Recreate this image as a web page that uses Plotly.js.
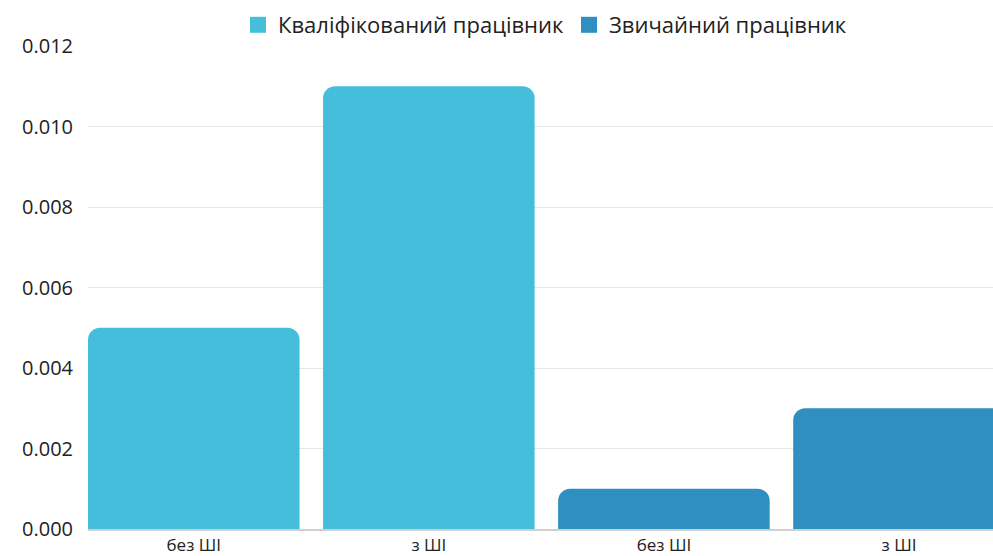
<!DOCTYPE html>
<html>
<head>
<meta charset="utf-8">
<script src="https://cdn.plot.ly/plotly-3.0.1.min.js"></script>
<style>html,body{margin:0;padding:0;background:#fff;}#chart{width:993px;height:556px;}</style>
</head>
<body>
<div id="chart"></div>
<script>
const tickLabels = ["без ШІ", "з ШІ", "без ШІ", "з ШІ"];
const seriesNames = ["Кваліфікований працівник", "Звичайний працівник"];
const skilledValues = [0.005, 0.011];
const regularValues = [0.001, 0.003];
const skilledIdx = [0, 1];
const regularIdx = [2, 3];
const colors = ["#45BEDB", "#2E8FC0"];

const traces = [
  {type: "bar", name: seriesNames[0], x: skilledIdx, y: skilledValues, width: 0.9,
   marker: {color: colors[0], cornerradius: 12}, showlegend: false, legendgroup: "a"},
  {type: "bar", name: seriesNames[1], x: regularIdx, y: regularValues, width: 0.9,
   marker: {color: colors[1], cornerradius: 12}, showlegend: false, legendgroup: "b"},
  {type: "scatter", mode: "markers", name: seriesNames[0], x: [null], y: [null], legendgroup: "a",
   marker: {symbol: "square", size: 22, color: colors[0]}, hoverinfo: "skip"},
  {type: "scatter", mode: "markers", name: seriesNames[1], x: [null], y: [null], legendgroup: "b",
   marker: {symbol: "square", size: 22, color: colors[1]}, hoverinfo: "skip"}
];

const layout = {
  width: 993, height: 556,
  margin: {l: 88, r: 0, t: 46, b: 27},
  paper_bgcolor: "#fff", plot_bgcolor: "#fff",
  font: {family: "Open Sans, sans-serif", color: "#222", size: 18},
  barmode: "overlay",
  showlegend: true,
  legend: {orientation: "h", x: 0.505, xanchor: "center", y: 1.0, yanchor: "bottom",
           font: {size: 22, color: "#222"}, itemsizing: "trace", tracegroupgap: 0},
  xaxis: {range: [-0.45, 3.4], tickmode: "array", tickvals: [0, 1, 2, 3], ticktext: tickLabels,
          showgrid: false, zeroline: false, showline: true, linecolor: "#d0d0d0", linewidth: 2,
          ticks: "", tickfont: {size: 17, color: "#222"}, ticklabelstandoff: 0},
  yaxis: {range: [0, 0.012], dtick: 0.002, tickformat: ".3f", showgrid: true, gridcolor: "#e6e6e6",
          zeroline: false, ticks: "", tickfont: {size: 20, color: "#222"}, ticklabelstandoff: 14}
};

Plotly.newPlot("chart", traces, layout, {displayModeBar: false});
</script>
</body>
</html>
